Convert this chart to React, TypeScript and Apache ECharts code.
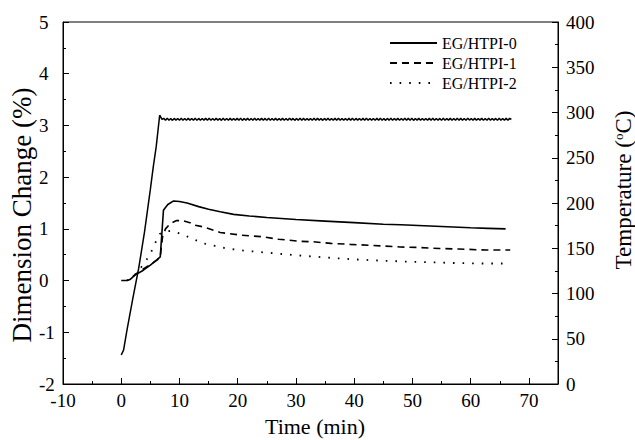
import React, { useEffect, useRef } from 'react';
import * as echarts from 'echarts';

const FONT = 'Liberation Serif';

const seriesNames = ['EG/HTPI-0', 'EG/HTPI-1', 'EG/HTPI-2'];

// Dimension change (%) vs time (min)
const timeEG0 = [0, 0.5, 1.0, 1.5, 2.4, 3.8, 5.0, 6.1, 6.7, 7.25, 7.5, 8.0, 9.0, 10.0, 11.3, 13.3, 15, 17, 19.3, 22, 25, 30, 35, 40, 45, 48, 52, 56, 60, 63, 66];
const dimEG0 = [0, 0, 0, 0.02, 0.11, 0.2, 0.3, 0.4, 0.46, 1.36, 1.40, 1.47, 1.54, 1.53, 1.50, 1.43, 1.38, 1.33, 1.28, 1.25, 1.22, 1.18, 1.15, 1.12, 1.09, 1.08, 1.06, 1.04, 1.02, 1.01, 1.00];

const timeEG1 = [2.0, 3.0, 4.0, 5.0, 6.2, 6.7, 7.1, 7.6, 8.4, 9.5, 10.5, 11.8, 12.7, 14, 17, 20.4, 24, 27, 30.7, 33, 36, 39.3, 43, 47.9, 51, 54.7, 58, 62.7, 66.8];
const dimEG1 = [0.08, 0.17, 0.24, 0.31, 0.40, 0.46, 0.85, 1.0, 1.10, 1.16, 1.16, 1.12, 1.07, 1.04, 0.93, 0.88, 0.85, 0.80, 0.76, 0.75, 0.72, 0.70, 0.68, 0.65, 0.64, 0.62, 0.61, 0.59, 0.59];

const timeEG2 = [1.0, 2.0, 3.0, 3.5, 4.2, 4.9, 5.8, 6.6, 7.5, 8.5, 9.5, 10.4, 12.4, 14.1, 16.1, 18.1, 21, 25, 30, 34.7, 40, 45.5, 51, 56.9, 62, 66];
const dimEG2 = [0.0, 0.08, 0.18, 0.27, 0.38, 0.49, 0.72, 0.90, 0.95, 0.96, 0.93, 0.90, 0.80, 0.72, 0.67, 0.62, 0.58, 0.54, 0.49, 0.45, 0.41, 0.38, 0.36, 0.34, 0.33, 0.33];

// Temperature (°C): heating ramp then controlled plateau
const tempRampTime = [0, 0.4, 1, 2, 3, 4, 5, 5.5, 6, 6.6];
const tempRamp = [32, 37.5, 60, 95, 128, 168, 215, 240, 262, 297];
const plateauStart = 7.0;
const plateauStep = 0.3;
const tempPlateau = [
  292.3, 293.5, 291.4, 293.6, 291.5, 293.4, 291.3, 293.5, 291.6, 293.4,
  291.5, 293.6, 291.4, 293.3, 291.5, 293.5, 291.6, 293.4, 291.4, 293.6,
  291.3, 293.5, 291.5, 293.4, 291.6, 293.5, 291.4, 293.6, 291.5, 293.3,
  291.4, 293.5, 291.6, 293.4, 291.3, 293.6, 291.5, 293.4, 291.5, 293.5,
  291.6, 293.4, 291.4, 293.5, 291.5, 293.6, 291.3, 293.4, 291.6, 293.5,
  291.5, 293.3, 291.4, 293.6, 291.5, 293.4, 291.6, 293.5, 291.4, 293.5,
  291.3, 293.6, 291.5, 293.4, 291.5, 293.5, 291.4, 293.3, 291.6, 293.5,
  291.5, 293.4, 291.4, 293.6, 291.6, 293.5, 291.3, 293.4, 291.5, 293.6,
  291.4, 293.5, 291.5, 293.3, 291.6, 293.4, 291.5, 293.6, 291.4, 293.5,
  291.6, 293.4, 291.3, 293.5, 291.5, 293.6, 291.4, 293.4, 291.5, 293.5,
  291.5, 293.6, 291.4, 293.4, 291.6, 293.3, 291.5, 293.5, 291.4, 293.6,
  291.3, 293.5, 291.6, 293.4, 291.5, 293.5, 291.4, 293.6, 291.5, 293.4,
  291.6, 293.3, 291.5, 293.5, 291.4, 293.6, 291.5, 293.4, 291.3, 293.5,
  291.5, 293.6, 291.4, 293.4, 291.6, 293.5, 291.5, 293.3, 291.4, 293.6,
  291.4, 293.5, 291.5, 293.6, 291.3, 293.4, 291.6, 293.5, 291.5, 293.4,
  291.6, 293.4, 291.4, 293.5, 291.5, 293.6, 291.4, 293.3, 291.5, 293.5,
  291.3, 293.6, 291.5, 293.4, 291.6, 293.5, 291.4, 293.4, 291.5, 293.6,
  291.5, 293.5, 291.4, 293.3, 291.5, 293.6, 291.6, 293.4, 291.4, 293.5,
  291.4, 293.4, 291.6, 293.5, 291.5, 293.3, 291.4, 293.6, 291.5, 293.4,
  291.6, 293.5, 291.3, 293.6, 291.5, 293.4, 291.5, 293.5, 291.4, 293.6,
  292.4,
];

const zip = (xs: number[], ys: number[]) => xs.map((x, i) => [x, ys[i]]);

export default function App() {
  const ref = useRef<HTMLDivElement>(null);
  useEffect(() => {
    document.body.style.margin = '0';
    if (!ref.current) return;
    const chart = echarts.init(ref.current, null, { renderer: 'svg' });

    const tempData = zip(tempRampTime, tempRamp).concat(
      tempPlateau.map((v, i) => [plateauStart + i * plateauStep, v])
    );

    const axisLabelStyle = { fontFamily: FONT, fontSize: 19, color: '#000', fontWeight: 'normal' };
    const black = { color: '#000', width: 1 };

    chart.setOption({
      animation: false,
      backgroundColor: '#fff',
      textStyle: { fontFamily: FONT, color: '#000' },
      grid: {
        left: 63,
        right: 77,
        top: 22,
        bottom: 56,
        show: true,
        borderColor: '#000',
        borderWidth: 1,
        backgroundColor: 'transparent',
        outerBoundsMode: 'none',
        containLabel: false,
      },
      legend: {
        orient: 'vertical',
        left: 384,
        top: 30,
        itemWidth: 47,
        itemHeight: 14,
        itemGap: 4,
        data: seriesNames,
        itemStyle: { color: 'transparent', borderColor: 'transparent', borderWidth: 0, opacity: 0 },
        textStyle: { fontFamily: FONT, fontSize: 16, color: '#000' },
      },
      xAxis: [
        {
          type: 'value',
          min: -10,
          max: 75,
          interval: 10,
          axisLine: { show: true, onZero: false, lineStyle: black },
          axisTick: { show: true, inside: true, length: 6, lineStyle: black },
          axisLabel: { ...axisLabelStyle, margin: 7, showMaxLabel: false },
          splitLine: { show: false },
        },
        {
          type: 'value',
          position: 'bottom',
          min: -10,
          max: 75,
          interval: 5,
          axisLine: { show: false, onZero: false },
          axisTick: { show: true, inside: true, length: 3, lineStyle: black },
          axisLabel: { show: false },
          splitLine: { show: false },
        },
      ],
      yAxis: [
        {
          type: 'value',
          min: -2,
          max: 5,
          interval: 1,
          position: 'left',
          axisLine: { show: true, onZero: false, lineStyle: black },
          axisTick: { show: true, inside: true, length: 6, lineStyle: black },
          minorTick: { show: true, splitNumber: 2, length: 3, lineStyle: black },
          axisLabel: { ...axisLabelStyle, align: 'left', margin: 24 },
          splitLine: { show: false },
        },
        {
          type: 'value',
          min: 0,
          max: 400,
          interval: 50,
          position: 'right',
          axisLine: { show: true, onZero: false, lineStyle: black },
          axisTick: { show: true, inside: true, length: 6, lineStyle: black },
          minorTick: { show: true, splitNumber: 2, length: 3, lineStyle: black },
          axisLabel: { ...axisLabelStyle, align: 'left', margin: 8 },
          splitLine: { show: false },
        },
      ],
      series: [
        {
          name: seriesNames[0],
          type: 'line',
          xAxisIndex: 0,
          yAxisIndex: 0,
          data: zip(timeEG0, dimEG0),
          symbol: 'none',
          lineStyle: { color: '#000', width: 1.6, type: 'solid' },
          itemStyle: { color: '#000' },
        },
        {
          name: seriesNames[1],
          type: 'line',
          xAxisIndex: 0,
          yAxisIndex: 0,
          data: zip(timeEG1, dimEG1),
          symbol: 'none',
          lineStyle: { color: '#000', width: 1.6, type: [7, 5] },
          itemStyle: { color: '#000' },
        },
        {
          name: seriesNames[2],
          type: 'line',
          xAxisIndex: 0,
          yAxisIndex: 0,
          data: zip(timeEG2, dimEG2),
          symbol: 'none',
          lineStyle: { color: '#000', width: 1.8, type: [1.6, 8], cap: 'butt' },
          itemStyle: { color: '#000' },
        },
        {
          name: 'Temperature',
          type: 'line',
          xAxisIndex: 0,
          yAxisIndex: 1,
          data: tempData,
          symbol: 'none',
          lineStyle: { color: '#000', width: 1.5 },
          itemStyle: { color: '#000' },
        },
      ],
      graphic: [
        {
          type: 'text',
          x: 22,
          y: 215,
          rotation: Math.PI / 2,
          style: {
            text: 'Dimension Change (%)',
            fontFamily: FONT,
            fontSize: 27,
            fill: '#000',
            align: 'center',
            verticalAlign: 'middle',
          },
        },
        {
          type: 'text',
          x: 623,
          y: 190,
          rotation: Math.PI / 2,
          style: {
            text: '{a|Temperature (}{s|o}{a|C)}',
            fontFamily: FONT,
            fill: '#000',
            align: 'center',
            verticalAlign: 'middle',
            rich: {
              a: { fontFamily: FONT, fontSize: 23, fill: '#000' },
              s: { fontFamily: FONT, fontSize: 13, fill: '#000', verticalAlign: 'top' },
            },
          },
        },
        {
          type: 'text',
          x: 315,
          y: 426,
          style: {
            text: 'Time (min)',
            fontFamily: FONT,
            fontSize: 22,
            fill: '#000',
            align: 'center',
            verticalAlign: 'middle',
          },
        },
      ],
    });
    return () => chart.dispose();
  }, []);
  return <div ref={ref} style={{ width: 635, height: 440 }} />;
}
